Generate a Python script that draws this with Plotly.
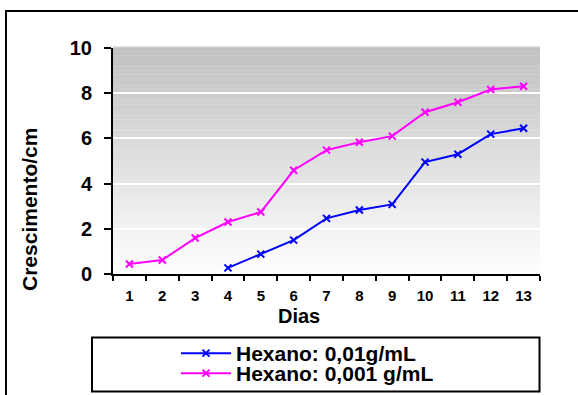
import plotly.graph_objects as go

dias = [str(d) for d in range(1, 14)]
hex_001 = [0.44, 0.62, 1.59, 2.30, 2.74, 4.59, 5.48, 5.83, 6.10, 7.16, 7.60, 8.16, 8.31]
hex_01_days = [str(d) for d in range(4, 14)]
hex_01 = [0.27, 0.88, 1.50, 2.46, 2.83, 3.08, 4.95, 5.30, 6.19, 6.45]
y_ticks = [0, 2, 4, 6, 8, 10]

FONT = "Liberation Sans, Arial, sans-serif"
W, H = 578, 395
L, R, T, B = 113, 38, 48, 121
PW, PH = W - L - R, H - T - B

def px_x(x):
    return (x - L) / PW

def px_y(y):
    return (H - B - y) / PH

fig = go.Figure()
fig.add_trace(go.Scatter(
    x=hex_01_days, y=hex_01, mode="lines+markers", name="Hexano: 0,01g/mL",
    line=dict(color="#0000FF", width=2),
    marker=dict(symbol="x-thin", size=7, line=dict(color="#0000FF", width=2)),
    legend="legend",
))
fig.add_trace(go.Scatter(
    x=dias, y=hex_001, mode="lines+markers", name="Hexano: 0,001 g/mL",
    line=dict(color="#FF00FF", width=2),
    marker=dict(symbol="x-thin", size=7, line=dict(color="#FF00FF", width=2)),
    legend="legend2",
))

shapes = []
N = 60
for i in range(N):
    t = i / N
    c = int(round(255 - (255 - 192) * (t + 0.5 / N)))
    shapes.append(dict(type="rect", xref="paper", yref="paper", x0=0, x1=1,
                       y0=t, y1=(i + 1) / N + 0.001, layer="below",
                       line=dict(width=0), fillcolor=f"rgb({c},{c},{c})"))
shapes.append(dict(type="line", xref="paper", yref="paper", x0=0, x1=1, y0=1.004, y1=1.004,
                   line=dict(color="#b8b8b8", width=1)))
shapes.append(dict(type="rect", xref="paper", yref="paper",
                   x0=px_x(6), x1=px_x(W + 20), y0=px_y(H + 20), y1=px_y(11),
                   line=dict(color="black", width=2), fillcolor="rgba(0,0,0,0)"))
shapes.append(dict(type="rect", xref="paper", yref="paper",
                   x0=px_x(92), x1=px_x(539.5), y0=px_y(391.5), y1=px_y(337.5),
                   line=dict(color="black", width=2), fillcolor="rgba(0,0,0,0)"))

annotations = [
    dict(text="Dias", xref="paper", yref="paper", x=px_x(299), y=px_y(316),
         showarrow=False, font=dict(family=FONT, size=20, color="black", weight="bold"),
         xanchor="center", yanchor="middle"),
    dict(text="Crescimento/cm", xref="paper", yref="paper", x=px_x(29), y=px_y(210),
         showarrow=False, textangle=-90,
         font=dict(family=FONT, size=21, color="black", weight="bold"),
         xanchor="center", yanchor="middle"),
]

leg_common = dict(xanchor="left", yanchor="top", bgcolor="rgba(0,0,0,0)", borderwidth=0,
                  font=dict(family=FONT, size=21, color="black", weight="bold"),
                  itemwidth=50)

fig.update_layout(
    width=W, height=H,
    margin=dict(l=L, r=R, t=T, b=B, autoexpand=False),
    paper_bgcolor="white", plot_bgcolor="rgba(0,0,0,0)",
    shapes=shapes, annotations=annotations,
    showlegend=True,
    legend=dict(x=px_x(176), y=px_y(333), **leg_common),
    legend2=dict(x=px_x(176), y=px_y(353), **leg_common),
    font=dict(family=FONT, color="black"),
)
fig.update_xaxes(
    type="category", categoryorder="array", categoryarray=dias,
    range=[-0.5, 12.5], tickson="boundaries", ticks="outside", ticklen=5,
    tickwidth=2, tickcolor="black", showline=True, linecolor="black", linewidth=2,
    showgrid=False, tickfont=dict(family=FONT, size=15, color="black", weight="bold"),
    ticklabelstandoff=7, zeroline=False,
)
fig.update_yaxes(
    range=[0, 10], tickvals=y_ticks, ticks="outside", ticklen=7, tickwidth=2,
    tickcolor="black", showline=True, linecolor="black", linewidth=2,
    showgrid=True, gridcolor="white", gridwidth=2, zeroline=False,
    tickfont=dict(family=FONT, size=20, color="black", weight="bold"),
    ticklabelstandoff=8,
)

fig.write_html("out.html")
